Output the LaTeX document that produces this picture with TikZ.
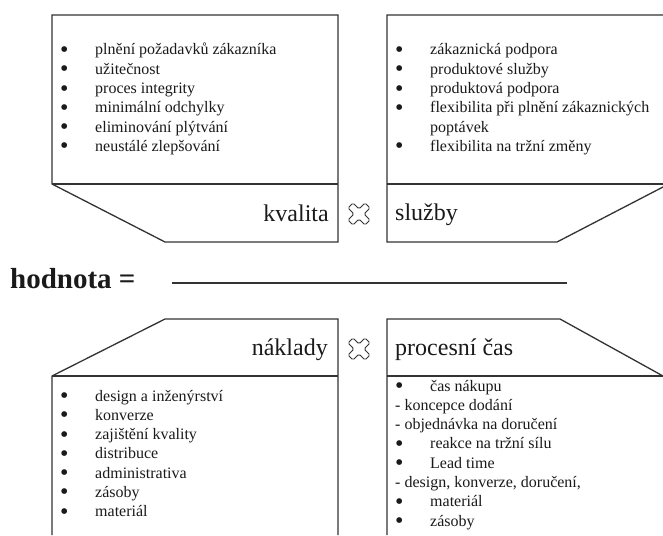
\documentclass[tikz,border=0pt]{standalone}
\usepackage{fontspec}
\setmainfont{Liberation Serif}
\usetikzlibrary{calc}
\definecolor{ln}{HTML}{333333}
\definecolor{tx}{HTML}{1A1A1A}
\tikzset{
  boxline/.style={draw=ln, line width=1.3pt, line join=miter},
  listtext/.style={inner sep=0pt, anchor=base west, text=tx, font=\fontsize{16}{19.3}\selectfont},
  label/.style={inner sep=0pt, text=tx, font=\fontsize{24}{28}\selectfont},
  crossmark/.style={draw=ln, line width=0.9pt, rounded corners=1.5pt, fill=white}
}
\newcommand{\bl}{\makebox[35pt][l]{\raisebox{-2.4pt}[0pt][0pt]{\scalebox{1.5}{\textbullet}}}}
\newcommand{\crossat}[1]{%
  \draw[crossmark, shift={(#1)}, rotate=45]
    (-3.6,-12) -- (3.6,-12) -- (3.6,-3.6) -- (12,-3.6) -- (12,3.6) -- (3.6,3.6) -- (3.6,12)
    -- (-3.6,12) -- (-3.6,3.6) -- (-12,3.6) -- (-12,-3.6) -- (-3.6,-3.6) -- cycle;}
\begin{document}
\begin{tikzpicture}[x=1pt,y=-1pt]
\useasboundingbox (0,0) rectangle (663,535);
\fill[white] (0,0) rectangle (663,535);

% top-left box (kvalita)
\draw[boxline] (52,15) -- (338,15) -- (338,242) -- (165,242) -- (52,184) -- cycle;
\draw[boxline] (52,184) -- (338,184);
% top-right box (sluzby)
\draw[boxline] (663,15) -- (387,15) -- (387,242) -- (557,242) -- (663,187);
\draw[boxline] (387,184) -- (663,184);
% bottom-left box (naklady)
\draw[boxline] (52,535) -- (52,376) -- (165,319) -- (338,319) -- (338,535);
\draw[boxline] (52,376) -- (338,376);
% bottom-right box (procesni cas)
\draw[boxline] (387,535) -- (387,319) -- (560,319) -- (663,376);
\draw[boxline] (387,376) -- (663,376);

% lists
\node[listtext] (lq) at (60,55) {\begin{tabular}[t]{@{}l@{}}
\bl plnění požadavků zákazníka\\
\bl užitečnost\\
\bl proces integrity\\
\bl minimální odchylky\\
\bl eliminování plýtvání\\
\bl neustálé zlepšování
\end{tabular}};

\node[listtext] (ls) at (395,55) {\begin{tabular}[t]{@{}l@{}}
\bl zákaznická podpora\\
\bl produktové služby\\
\bl produktová podpora\\
\bl flexibilita při plnění zákaznických\\
\hspace{35pt}poptávek\\
\bl flexibilita na tržní změny
\end{tabular}};

\node[listtext] (ln) at (60,401) {\begin{tabular}[t]{@{}l@{}}
\bl design a inženýrství\\
\bl konverze\\
\bl zajištění kvality\\
\bl distribuce\\
\bl administrativa\\
\bl zásoby\\
\bl materiál
\end{tabular}};

\node[listtext] (lp) at (395,391) {\begin{tabular}[t]{@{}l@{}}
\bl čas nákupu\\
- koncepce dodání\\
- objednávka na doručení\\
\bl reakce na tržní sílu\\
\bl Lead time\\
- design, konverze, doručení,\\
\bl materiál\\
\bl zásoby
\end{tabular}};

% labels
\node[label, anchor=base east] (kv) at (329,221) {kvalita};
\node[label, anchor=base west] (sl) at (395,220) {služby};
\node[label, anchor=base east] (na) at (328,355) {náklady};
\node[label, anchor=base west] (pc) at (395,355) {procesní čas};

% hodnota
\node[inner sep=0pt, anchor=base west, text=tx, font=\fontsize{29}{34}\selectfont\bfseries] (hod) at (10,288) {hodnota =};
\coordinate (f1) at (172,283);
\coordinate (f2) at (567,283);
\draw[draw=ln, line width=1.3pt] (f1) -- (f2);

% multiplication marks
\crossat{359,214}
\crossat{359,349}
\end{tikzpicture}
\end{document}
